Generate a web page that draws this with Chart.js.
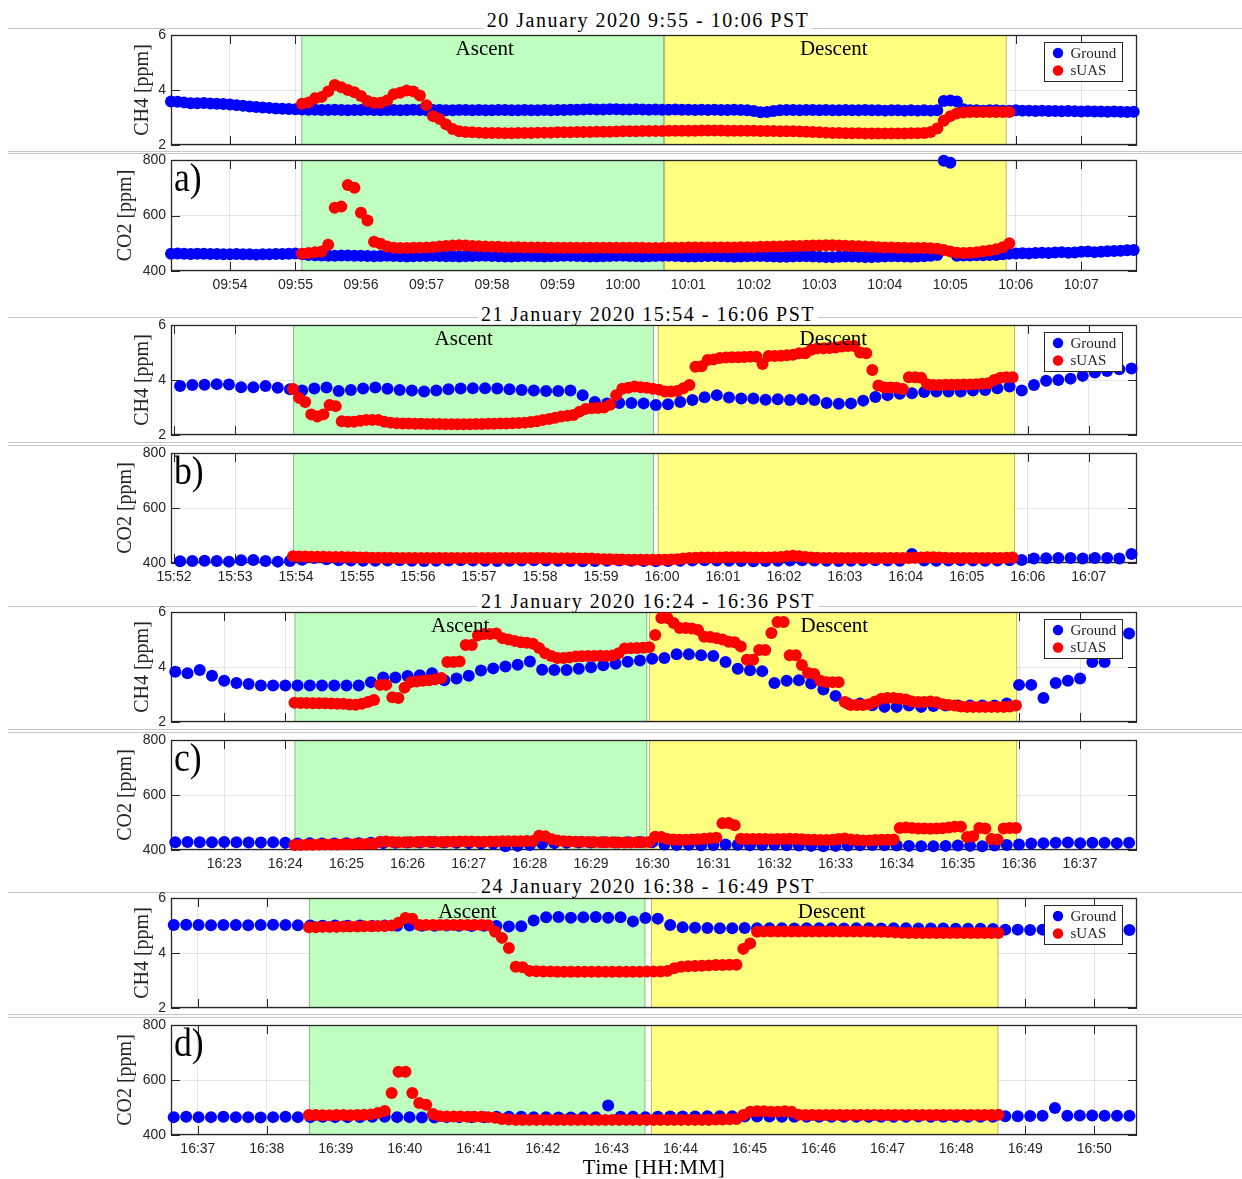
<!DOCTYPE html>
<html>
<head>
<meta charset="utf-8">
<script src="https://cdn.jsdelivr.net/npm/chart.js@4.4.1/dist/chart.umd.min.js"></script>
<style>
  body { margin: 0; background: #fff; width: 1242px; height: 1179px; position: relative; overflow: hidden; }
  .sep { position: absolute; left: 8px; right: 0; height: 1px; background: #c6c6c6; }
  .ttl { position: absolute; transform: translateX(-50%); font: 20px/24px "Liberation Serif", serif;
         letter-spacing: 1.5px; background: #fff; padding: 0 3px; white-space: nowrap; color: #000; }
  canvas { position: absolute; left: 0; }
</style>
</head>
<body>
<script>
// ---- data (times in minutes since midnight, PST) ----
const titles = [
  "20 January 2020 9:55 - 10:06 PST",
  "21 January 2020 15:54 - 16:06 PST",
  "21 January 2020 16:24 - 16:36 PST",
  "24 January 2020 16:38 - 16:49 PST"
];
const xLabel = "Time [HH:MM]";
const seriesNames = ["Ground", "sUAS"];
const phaseNames = ["Ascent", "Descent"];
const ch4Ticks = [2, 4, 6];
const co2Ticks = [400, 600, 800];

// a) 20 Jan
const aTicks = ["09:54","09:55","09:56","09:57","09:58","09:59","10:00","10:01","10:02","10:03","10:04","10:05","10:06","10:07"];
const aPhases = [595.09, 600.63, 600.63, 605.86];
const aGroundStart = 593.1, aGroundStep = 0.1;
const aGroundCH4 = [3.58,3.57,3.55,3.52,3.52,3.53,3.51,3.5,3.49,3.47,3.45,3.43,3.4,3.38,3.36,3.35,3.33,3.32,3.31,3.3,3.29,
  3.28,3.28,3.27,3.27,3.28,3.27,3.26,3.27,3.27,3.28,3.27,3.26,3.27,3.27,3.26,3.27,3.28,3.27,3.26,3.27,
  3.27,3.26,3.26,3.27,3.27,3.26,3.27,3.26,3.26,3.27,3.27,3.26,3.26,3.27,3.26,3.26,3.27,3.26,3.27,3.27,
  3.28,3.28,3.29,3.3,3.29,3.29,3.3,3.3,3.29,3.29,3.3,3.29,3.28,3.29,3.28,3.28,3.29,3.28,3.28,3.27,
  3.28,3.27,3.28,3.27,3.27,3.28,3.27,3.26,3.24,
  3.19,3.2,3.24,
  3.26,3.27,3.27,3.26,3.27,3.27,3.26,3.27,3.26,3.26,3.27,3.26,3.26,3.27,3.26,3.26,3.25,3.26,3.26,3.25,3.26,3.25,3.26,3.25,3.26,
  3.6,3.62,3.58,
  3.3,3.26,3.26,3.25,3.26,3.26,3.25,3.25,3.26,3.25,3.25,3.24,3.25,3.24,3.24,3.23,3.24,3.23,3.22,3.23,3.22,3.22,3.21,3.22,3.21,3.2,3.21];
const aGroundCO2 = [462,463,462,461,462,462,461,461,460,460,461,460,460,459,460,460,461,461,462,463,
  460,458,457,456,455,455,456,456,455,455,
  454,453,454,455,454,453,452,453,454,454,455,454,453,453,452,453,454,455,455,454,
  453,452,452,453,454,454,453,452,453,454,455,455,454,453,452,452,453,454,455,455,
  454,453,452,453,454,455,455,454,453,452,452,453,454,454,453,452,451,452,453,454,
  454,453,452,451,451,452,453,453,452,451,450,450,451,452,452,451,450,450,451,452,
  453,453,452,451,452,453,455,458,
  797,790,
  455,456,456,457,457,458,458,460,462,463,
  464,463,465,466,465,467,468,466,467,469,470,468,469,471,472,473,475,476];
const aSuasStart = 595.1, aSuasStep = 0.1;
const aSuasCH4 = [3.5,3.55,3.7,3.75,3.95,4.18,4.1,4.0,3.92,3.78,3.6,3.54,3.54,3.62,3.85,3.9,3.98,3.95,3.8,3.45,
  3.05,2.95,2.75,2.58,2.5,2.47,2.46,
  2.45,2.44,2.44,2.44,2.43,2.43,2.44,2.44,2.44,
  2.45,2.45,2.45,2.46,2.46,2.46,2.47,2.47,2.47,2.48,2.48,2.48,2.49,
  2.5,2.5,2.5,2.51,2.51,2.51,2.51,2.52,2.52,2.52,2.52,2.52,2.53,2.53,2.53,2.53,2.52,2.52,2.52,2.52,2.52,2.51,2.51,2.51,2.5,2.5,2.5,
  2.49,2.48,2.47,
  2.46,2.45,2.44,2.44,2.43,2.43,2.43,2.42,2.42,2.42,2.42,2.42,2.42,2.42,2.43,2.43,2.44,2.47,
  2.6,2.88,3.05,3.15,
  3.18,3.2,3.2,3.2,3.2,3.2,3.2,3.2];
const aSuasCO2 = [462,465,468,470,495,628,632,710,700,610,582,505,498,488,484,
  483,483,484,484,485,486,488,490,492,493,492,
  490,489,488,487,487,486,486,486,485,485,485,485,484,484,484,484,484,484,484,484,484,484,484,
  484,484,484,484,483,483,483,484,484,484,485,485,485,485,485,485,485,485,486,486,486,487,
  487,488,488,489,490,490,491,492,492,493,493,492,491,490,489,
  488,487,486,485,485,484,484,483,483,483,482,
  480,476,470,466,465,466,468,471,474,478,486,500];

// b) 21 Jan afternoon
const bTicks = ["15:52","15:53","15:54","15:55","15:56","15:57","15:58","15:59","16:00","16:01","16:02","16:03","16:04","16:05","16:06","16:07"];
const bPhases = [953.95, 959.87, 959.93, 965.79];
const bGroundStart = 952.1, bGroundStep = 0.2;
const bGroundCH4 = [3.78,3.82,3.83,3.85,3.84,3.74,3.74,3.78,3.72,3.66,
  3.62,3.69,3.73,3.6,3.64,3.69,3.73,3.68,3.64,3.62,
  3.58,3.62,3.66,3.69,3.7,3.7,3.69,3.66,3.64,3.62,
  3.6,3.6,3.62,3.45,3.2,3.15,3.16,3.16,3.15,3.09,
  3.12,3.2,3.27,3.37,3.45,3.36,3.33,3.33,3.28,3.3,
  3.27,3.3,3.27,3.16,3.14,3.15,3.25,3.38,3.45,3.5,
  3.52,3.56,3.58,3.58,3.58,3.62,3.64,3.7,3.76,3.62,
  3.82,3.97,4.0,4.05,4.15,4.27,4.33,4.39,4.42];
const bGroundCO2 = [406,407,408,407,405,410,411,407,405,407,
  412,418,414,410,409,408,408,409,410,408,
  407,408,409,410,409,408,407,408,409,410,
  409,408,407,406,407,408,409,408,407,406,
  407,408,409,410,409,408,407,406,407,408,
  409,410,409,408,407,408,409,410,409,408,
  433,409,408,409,410,409,408,409,410,411,
  416,417,418,418,416,418,418,416,433];
const bSuasStart = 953.95, bSuasStep = 0.1;
const bSuasCH4 = [3.67,3.35,3.2,2.75,2.67,2.75,3.09,3.05,2.5,2.48,2.48,2.52,2.55,2.55,2.55,2.48,2.45,
  2.43,2.42,2.42,2.41,2.41,2.4,2.4,2.4,2.39,2.39,2.39,2.39,2.39,
  2.4,2.4,2.41,2.41,2.42,2.42,2.43,2.44,2.45,2.47,2.5,
  2.55,2.58,2.63,2.67,2.7,2.73,2.85,2.95,2.97,2.98,3.0,3.1,3.45,3.68,3.72,3.76,3.74,3.72,3.68,3.65,
  3.58,3.58,3.6,3.7,3.82,4.48,4.5,4.73,4.75,4.8,4.82,4.83,4.83,4.84,4.85,4.85,4.58,4.87,4.87,4.88,
  4.9,4.92,4.97,4.97,5.1,5.15,5.15,5.16,5.18,5.22,5.24,5.24,5.0,4.97,4.36,3.8,3.73,3.73,3.72,3.67,
  4.1,4.1,4.08,3.85,
  3.82,3.82,3.83,3.83,3.83,3.84,3.84,3.85,3.86,3.88,
  4.0,4.08,4.1,4.1];
const bSuasCO2 = [425,424,424,423,423,423,422,422,422,421,421,
  420,420,419,419,419,419,418,418,418,418,418,418,418,418,418,418,418,418,418,418,
  418,418,418,418,418,418,418,418,418,418,418,418,417,417,417,417,416,416,416,415,
  414,414,413,413,412,412,412,412,412,412,412,413,414,416,
  418,419,420,420,420,420,421,421,421,421,420,420,420,420,421,422,
  425,426,425,
  422,420,419,418,418,418,418,418,418,418,418,418,418,418,418,418,418,418,419,420,
  421,421,420,419,418,418,418,418,418,418,418,418,418,419,420];

// c) 21 Jan later afternoon
const cTicks = ["16:23","16:24","16:25","16:26","16:27","16:28","16:29","16:30","16:31","16:32","16:33","16:34","16:35","16:36","16:37"];
const cPhases = [984.15, 989.92, 989.95, 995.97];
const cGroundStart = 982.2, cGroundStep = 0.2;
const cGroundCH4 = [3.83,3.77,3.89,3.68,3.5,3.42,3.38,3.33,3.33,3.33,
  3.33,3.33,3.33,3.33,3.33,3.33,3.45,3.62,3.62,3.67,
  3.7,3.77,3.52,3.58,3.68,3.87,3.95,4.02,4.08,4.2,
  3.9,3.89,3.89,3.94,3.99,4.06,4.12,4.19,4.24,4.3,
  4.33,4.46,4.46,4.43,4.4,4.18,3.94,3.88,3.85,3.42,
  3.5,3.52,3.4,3.18,2.95,2.67,2.67,2.61,2.55,2.55,
  2.6,2.55,2.58,2.6,2.6,2.6,2.6,2.6,2.67,3.35,
  3.35,2.87,3.42,3.5,3.58,4.18,4.18,null,5.22];
const cGroundCO2 = [428,429,428,428,429,428,427,427,428,426,
  424,425,424,424,425,425,426,425,426,427,427,428,427,426,425,424,423,414,415,418,
  424,425,426,427,427,428,427,428,429,428,
  420,418,419,417,418,420,419,417,418,419,417,416,415,414,415,416,417,418,417,416,
  415,414,414,415,416,415,414,416,418,420,
  424,425,426,427,425,426,426,425,426];
const cSuasStart = 984.15, cSuasStep = 0.1;
const cSuasCH4 = [2.7,2.69,2.69,2.68,2.68,2.68,2.67,2.66,2.66,2.64,2.63,2.66,2.73,2.8,3.35,3.35,2.9,2.87,3.25,
  3.45,3.47,3.5,3.52,3.55,3.6,4.18,4.18,4.2,4.8,4.8,5.15,5.2,5.2,5.22,5.05,5.0,4.95,4.9,4.88,
  4.85,4.69,4.5,4.4,4.33,4.33,4.35,4.38,4.39,4.4,4.4,4.41,4.4,4.42,4.5,4.67,4.68,4.69,4.7,4.72,
  5.16,5.78,5.78,5.6,5.42,5.42,5.4,5.35,5.1,5.09,5.05,5.0,4.92,4.9,4.75,4.26,4.26,4.62,4.62,5.24,
  5.64,5.64,4.43,4.43,4.07,3.78,3.75,3.5,3.45,3.45,3.45,2.73,2.62,2.62,2.62,2.65,2.75,2.85,2.87,2.87,
  2.85,2.82,2.75,2.73,2.73,2.75,2.72,2.65,2.62,2.6,2.56,
  2.55,2.55,2.55,2.55,2.55,2.55,2.55,2.56,2.6];
const cSuasCO2 = [418,418,419,419,420,420,420,420,421,421,422,422,423,423,
  430,431,429,428,428,429,
  429,430,430,430,429,430,430,431,431,431,430,430,431,431,432,432,432,432,433,433,
  452,450,440,435,
  432,431,430,430,429,429,428,428,428,427,427,427,428,428,429,
  448,447,440,438,437,437,438,439,441,443,445,
  497,498,490,
  441,440,440,440,440,439,440,440,441,440,439,
  437,437,436,436,437,440,442,438,436,435,435,436,437,437,438,
  480,482,480,478,478,477,478,479,482,485,485,
  447,450,480,478,440,438,478,480,480];

// d) 24 Jan
const dTicks = ["16:37","16:38","16:39","16:40","16:41","16:42","16:43","16:44","16:45","16:46","16:47","16:48","16:49","16:50"];
const dPhases = [998.61, 1003.49, 1003.57, 1008.61];
const dGroundStart = 996.65, dGroundStep = 0.18;
const dGroundCH4 = [5.02,5.03,5.02,5.01,5.02,5.02,5.01,5.02,5.03,5.02,5.01,
  5.0,4.99,5.0,4.99,5.0,4.98,5.0,4.99,5.0,4.99,4.99,5.0,4.99,4.98,4.99,4.98,
  4.96,4.97,5.18,
  5.3,5.31,5.28,5.3,5.31,5.28,5.3,
  5.15,5.27,5.25,5.02,4.94,
  4.92,4.91,4.9,4.9,4.91,4.9,4.9,4.9,4.89,4.9,4.9,4.9,4.89,4.9,4.9,4.89,4.9,4.9,4.89,4.89,4.89,4.88,4.88,4.88,4.87,
  4.85,4.85,4.84,4.85,4.84,4.84,4.85,4.84,4.84,4.85,4.84];
const dGroundCO2 = [465,466,465,465,466,465,465,464,465,466,465,465,466,465,465,465,466,466,465,465,
  464,464,465,465,465,465,466,466,466,465,465,464,464,465,465,
  507,
  466,466,465,466,467,467,467,468,468,468,467,467,467,466,466,466,466,466,466,466,
  466,466,466,466,467,466,466,466,466,466,466,
  468,468,469,470,498,470,471,471,470,470,470];
const dSuasStart = 998.61, dSuasStep = 0.1;
const dSuasCH4 = [4.94,4.94,4.95,4.95,4.95,4.96,4.96,4.96,4.97,4.97,4.98,4.98,5.0,
  5.1,5.27,5.25,
  5.02,5.02,5.02,5.02,5.02,5.02,5.02,5.02,5.02,5.02,5.01,
  4.77,4.55,4.18,3.5,3.48,
  3.35,3.34,3.33,3.33,3.32,3.32,3.32,3.32,3.32,3.32,3.32,3.32,3.32,3.32,3.32,3.32,3.32,3.33,3.33,3.33,3.35,
  3.45,3.5,3.52,3.53,3.54,3.55,3.56,3.56,3.57,3.57,
  4.15,4.35,
  4.77,4.78,4.78,4.78,4.78,4.78,4.78,4.78,4.78,4.78,4.78,4.78,4.78,4.78,4.78,4.78,4.78,4.77,4.77,4.76,
  4.75,4.74,4.73,4.73,4.73,4.73,4.73,4.73,4.73,4.73,4.73,4.73,4.73,4.73,4.73,4.73];
const dSuasCO2 = [473,473,472,472,473,473,472,473,474,475,
  480,487,553,630,630,553,516,510,476,
  468,467,467,467,466,466,466,465,463,
  458,456,455,455,455,455,455,455,455,455,455,455,455,455,455,455,455,455,455,455,
  455,455,455,455,455,455,455,455,455,455,455,456,456,457,458,
  473,
  485,486,486,485,485,486,485,
  474,473,473,473,473,473,473,473,473,473,473,473,473,473,473,473,473,473,473,473,
  473,473,473,473,473,473,473,473,473,474];

// ---- layout ----
const panels = [
  { title: titles[0], titleTop: 8, seps: [28, 151, 153], ch4Box: [35, 145], co2Box: [160, 271],
    xRange: [593.1, 607.85], ticks: aTicks, letter: "a)", phases: aPhases, labelAt: [597.89, 603.22],
    g: [aGroundStart, aGroundStep, aGroundCH4, aGroundCO2], s: [aSuasStart, aSuasStep, aSuasCH4, aSuasCO2] },
  { title: titles[1], titleTop: 302, seps: [317, 442, 445], ch4Box: [325, 435], co2Box: [453, 563],
    xRange: [951.95, 967.79], ticks: bTicks, letter: "b)", phases: bPhases, labelAt: [956.75, 962.81],
    g: [bGroundStart, bGroundStep, bGroundCH4, bGroundCO2], s: [bSuasStart, bSuasStep, bSuasCH4, bSuasCO2] },
  { title: titles[2], titleTop: 589, seps: [606, 729, 732], ch4Box: [612, 722], co2Box: [740, 850],
    xRange: [982.13, 997.93], ticks: cTicks, letter: "c)", phases: cPhases, labelAt: [986.86, 992.98],
    g: [cGroundStart, cGroundStep, cGroundCH4, cGroundCO2], s: [cSuasStart, cSuasStep, cSuasCH4, cSuasCO2] },
  { title: titles[3], titleTop: 874, seps: [892, 1014, 1017], ch4Box: [898, 1008], co2Box: [1025, 1135],
    xRange: [996.61, 1010.62], ticks: dTicks, letter: "d)", phases: dPhases, labelAt: [1000.91, 1006.19],
    g: [dGroundStart, dGroundStep, dGroundCH4, dGroundCO2], s: [dSuasStart, dSuasStep, dSuasCH4, dSuasCO2] }
];

const INK = "#262626";
const SERIF = '"Liberation Serif", "Times New Roman", serif';
const SANS = '"Liberation Sans", Arial, sans-serif';

function series(t0, step, vals) {
  return vals.map((v, i) => ({ x: t0 + i * step, y: v }));
}
function toMin(s) {
  const [h, m] = s.split(":").map(Number);
  return h * 60 + m;
}

function decor(info) {
  return {
    id: "decor",
    beforeDatasetsDraw(chart) {
      const { ctx, chartArea: ca, scales: { x, y } } = chart;
      ctx.save();
      ctx.lineWidth = 1;
      ctx.strokeStyle = INK;
      ctx.beginPath();
      x.ticks.forEach(t => {
        const px = Math.round(x.getPixelForValue(t.value)) + 0.5;
        ctx.moveTo(px, ca.bottom); ctx.lineTo(px, ca.bottom - 9);
        ctx.moveTo(px, ca.top); ctx.lineTo(px, ca.top + 9);
      });
      y.ticks.forEach(t => {
        const py = Math.round(y.getPixelForValue(t.value)) + 0.5;
        ctx.moveTo(ca.left, py); ctx.lineTo(ca.left + 9, py);
        ctx.moveTo(ca.right, py); ctx.lineTo(ca.right - 9, py);
      });
      ctx.stroke();
      // ascent / descent patches
      const ph = info.phases;
      [[ph[0], ph[1], "rgb(191,255,191)"], [ph[2], ph[3], "rgb(255,255,128)"]].forEach(([a, b, col]) => {
        const x0 = x.getPixelForValue(a), x1 = x.getPixelForValue(b);
        ctx.fillStyle = col;
        ctx.fillRect(x0, ca.top, x1 - x0, ca.height);
        ctx.strokeStyle = "rgba(0,0,0,0.28)";
        ctx.strokeRect(x0 + 0.5, ca.top + 0.5, x1 - x0 - 1, ca.height - 1);
      });
      ctx.strokeStyle = INK;
      ctx.lineWidth = 1.3;
      ctx.strokeRect(ca.left + 0.5, ca.top + 0.5, ca.width - 1, ca.height - 1);
      ctx.restore();
    },
    afterDatasetsDraw(chart) {
      const { ctx, chartArea: ca, scales: { x } } = chart;
      ctx.save();
      ctx.fillStyle = "#000";
      if (info.isCH4) {
        ctx.font = "21px " + SERIF;
        ctx.textAlign = "center";
        ctx.textBaseline = "alphabetic";
        info.labelAt.forEach((t, i) => ctx.fillText(phaseNames[i], x.getPixelForValue(t), ca.top + 19.5));
        // legend
        const lx = ca.right - 93, ly = ca.top + 7;
        ctx.fillStyle = "#fff";
        ctx.fillRect(lx, ly, 78, 39);
        ctx.strokeStyle = INK;
        ctx.lineWidth = 1;
        ctx.strokeRect(lx + 0.5, ly + 0.5, 78, 39);
        ["#0000ff", "#ff0000"].forEach((col, i) => {
          ctx.fillStyle = col;
          ctx.beginPath();
          ctx.arc(lx + 14, ly + 11 + i * 17.5, 5.2, 0, Math.PI * 2);
          ctx.fill();
          ctx.fillStyle = INK;
          ctx.font = "15px " + SERIF;
          ctx.textAlign = "left";
          ctx.fillText(seriesNames[i], lx + 26.5, ly + 15.5 + i * 17);
        });
      } else {
        ctx.font = "41px " + SERIF;
        ctx.textAlign = "left";
        ctx.translate(ca.left + 3, ca.top + 31);
        ctx.scale(0.87, 1);
        ctx.fillText(info.letter, 0, 0);
      }
      ctx.restore();
    },
    afterDraw(chart) {
      const { ctx, chartArea: ca } = chart;
      ctx.save();
      ctx.fillStyle = INK;
      ctx.font = "20px " + SERIF;
      ctx.textAlign = "center";
      ctx.textBaseline = "middle";
      ctx.translate(info.ylabelX, (ca.top + ca.bottom) / 2);
      ctx.rotate(-Math.PI / 2);
      ctx.fillText(info.ylabel, 0, 0);
      ctx.restore();
    }
  };
}

function build(p, isCH4) {
  const [top, bottom] = isCH4 ? p.ch4Box : p.co2Box;
  const cv = document.createElement("canvas");
  cv.width = 1242;
  cv.height = bottom - top + 50;
  cv.style.top = (top - 20) + "px";
  document.body.appendChild(cv);
  const k = isCH4 ? 2 : 3;
  const yt = isCH4 ? ch4Ticks : co2Ticks;
  const grid = { color: "rgba(0,0,0,0.1)", drawTicks: false };
  new Chart(cv, {
    type: "scatter",
    data: {
      datasets: [
        { label: seriesNames[0], data: series(p.g[0], p.g[1], p.g[k]), order: 1 },
        { label: seriesNames[1], data: series(p.s[0], p.s[1], p.s[k]), order: 0 }
      ].map((d, i) => Object.assign(d, {
        pointBackgroundColor: i ? "#ff0000" : "#0000ff",
        pointBorderWidth: 0, pointRadius: 6, pointHoverRadius: 6, clip: false
      }))
    },
    options: {
      responsive: false, animation: false, events: [], devicePixelRatio: 1,
      layout: { padding: { left: 131, right: 105, top: 20, bottom: 0 } },
      plugins: { legend: { display: false }, tooltip: { enabled: false } },
      scales: {
        x: {
          type: "linear", min: p.xRange[0], max: p.xRange[1],
          afterBuildTicks: s => { s.ticks = p.ticks.map(l => ({ value: toMin(l) })); },
          afterFit: s => { s.height = 30; },
          ticks: { display: !isCH4, autoSkip: false, maxRotation: 0, padding: 6,
                   font: { family: SANS, size: 14 }, color: INK,
                   callback: (v, i) => p.ticks[i] },
          grid, border: { display: false }
        },
        y: {
          type: "linear", min: yt[0], max: yt[yt.length - 1],
          afterBuildTicks: s => { s.ticks = yt.map(v => ({ value: v })); },
          afterFit: s => { s.width = 40; },
          ticks: { padding: 5, font: { family: SANS, size: 14 }, color: INK },
          grid, border: { display: false }
        }
      }
    },
    plugins: [decor({
      isCH4, phases: p.phases, labelAt: p.labelAt, letter: p.letter,
      ylabel: isCH4 ? "CH4 [ppm]" : "CO2 [ppm]", ylabelX: isCH4 ? 143 : 126
    })]
  });
}

panels.forEach(p => {
  p.seps.forEach(y => {
    const d = document.createElement("div");
    d.className = "sep";
    d.style.top = y + "px";
    document.body.appendChild(d);
  });
  const t = document.createElement("div");
  t.className = "ttl";
  t.textContent = p.title;
  t.style.left = "648px";
  t.style.top = p.titleTop + "px";
  document.body.appendChild(t);
});
panels.forEach(p => { build(p, true); build(p, false); });

const xl = document.createElement("div");
xl.className = "ttl";
xl.style.cssText = "left:654px;top:1155px;font-size:21px;letter-spacing:0.5px;background:transparent";
xl.textContent = xLabel;
document.body.appendChild(xl);
</script>
</body>
</html>
